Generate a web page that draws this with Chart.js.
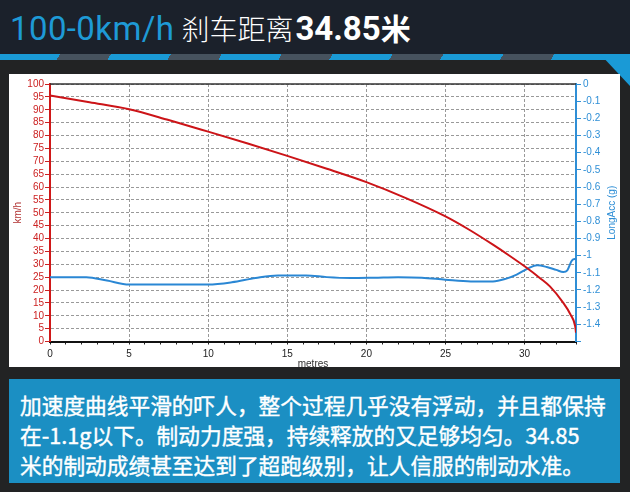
<!DOCTYPE html>
<html>
<head>
<meta charset="utf-8">
<script src="https://cdn.jsdelivr.net/npm/chart.js@4.4.0/dist/chart.umd.min.js"></script>
<style>
html, body { margin: 0; padding: 0; }
body { width: 630px; height: 492px; background: #222324; position: relative; overflow: hidden; font-family: "Noto Sans CJK SC", "Noto Sans", sans-serif; }
#head { position: absolute; left: 0; top: 0; width: 630px; height: 54px; background: #1b212b; }
#title { position: absolute; left: 10px; top: 7px; white-space: nowrap; line-height: 40px; color: #fff; }
#title .en { font-family: Roboto, sans-serif; font-size: 33px; color: #1e9ad6; letter-spacing: 0.4px; }
#title .cn { font-size: 28px; margin-left: 7px; font-weight: 300; }
#title .num { font-family: Roboto, sans-serif; font-weight: 700; font-size: 33px; margin-left: 2px; }
#title .unit { font-size: 30px; font-weight: 700; }
#stripe { position: absolute; left: 0; top: 54px; width: 630px; height: 6px;
  background: repeating-linear-gradient(120deg, #1a9ad6 0 52px, #46525e 52px 96px); }
#corner { position: absolute; left: 600px; top: 54px; width: 30px; height: 32px; background: #1a9ad6;
  clip-path: polygon(0 0, 100% 0, 100% 100%); }
#box { position: absolute; left: 9px; top: 74px; width: 611px; height: 293px; background: #fff; }
#note { position: absolute; left: 9px; top: 379px; width: 600px; height: 93px; background: #1b8fc3;
  padding: 11px 0 0 11px; color: #fff; font-size: 21.7px; line-height: 30px; white-space: nowrap;
  -webkit-text-stroke: 0.4px #fff; }
</style>
</head>
<body>
<div id="head"></div>
<div id="title"><span class="en">100-0km/h</span><span class="cn">刹车距离</span><span class="num">34.85</span><span class="unit">米</span></div>
<div id="stripe"></div>
<div id="corner"></div>
<div id="box"><canvas id="myChart" width="611" height="293"></canvas></div>
<div id="note">加速度曲线平滑的吓人，整个过程几乎没有浮动，并且都保持<br>在-1.1g以下。制动力度强，持续释放的又足够均匀。34.85<br>米的制动成绩甚至达到了超跑级别，让人信服的制动水准。</div>

<script>
// speed (km/h) against distance (m)
var speedDist = [0, 2.5, 5, 7.5, 10, 12.5, 15, 17.5, 20, 22.5, 25, 26.5, 28, 29, 30, 31, 31.6, 32.4, 32.9, 33.2, 33.25];
var speedKmh = [95.5, 92.9, 90.2, 86, 81.5, 76.9, 72.1, 67.1, 61.9, 55.7, 48.6, 43.4, 37.6, 33.5, 29.2, 24.5, 21.4, 15.4, 10.5, 5.9, 3.4];

// longitudinal acceleration (g) against distance (m)
var accDist = [0, 2.3, 3.6, 5, 7.5, 10, 11.5, 13, 14.4, 16.2, 17.5, 19, 20.5, 22, 23.5, 25, 26.6, 28, 28.8, 29.5, 30.2, 30.8, 31.4, 32, 32.45, 32.7, 33, 33.25];
var accG = [-1.125, -1.125, -1.145, -1.168, -1.168, -1.168, -1.155, -1.13, -1.115, -1.115, -1.125, -1.13, -1.128, -1.125, -1.128, -1.14, -1.15, -1.15, -1.135, -1.11, -1.075, -1.056, -1.066, -1.083, -1.095, -1.085, -1.027, -1.018];

var distTicks = [0, 5, 10, 15, 20, 25, 30];

function toPoints(xs, ys) {
    var pts = [];
    for (var i = 0; i < xs.length; i++) {
        pts.push({ x: xs[i], y: ys[i] });
    }
    return pts;
}

var tickFont = { size: 10, family: 'Liberation Sans' };

// top frame line and the right axis title (reads bottom to top)
var frame = {
    id: 'frame',
    afterDraw: function(chart) {
        var c = chart.ctx, a = chart.chartArea;
        c.save();
        c.strokeStyle = '#333';
        c.lineWidth = 1.5;
        c.beginPath();
        c.moveTo(a.left, a.top);
        c.lineTo(a.right, a.top);
        c.stroke();
        c.translate(chart.width - 8, (a.top + a.bottom) / 2);
        c.rotate(-Math.PI / 2);
        c.fillStyle = '#2f8fd6';
        c.font = '10px "Liberation Sans"';
        c.textAlign = 'center';
        c.textBaseline = 'middle';
        c.fillText('LongAcc (g)', 0, 0);
        c.restore();
    }
};

var ctx = document.getElementById('myChart').getContext('2d');
var chart = new Chart(ctx, {
    type: 'line',
    data: {
        datasets: [{
            label: 'km/h',
            data: toPoints(speedDist, speedKmh),
            yAxisID: 'ySpeed',
            borderColor: '#cc1418',
            borderWidth: 2,
            pointRadius: 0,
            cubicInterpolationMode: 'monotone'
        }, {
            label: 'LongAcc (g)',
            data: toPoints(accDist, accG),
            yAxisID: 'yAcc',
            borderColor: '#2a87d4',
            borderWidth: 2,
            pointRadius: 0,
            cubicInterpolationMode: 'monotone'
        }]
    },
    options: {
        responsive: false,
        animation: false,
        layout: { padding: { top: 10 } },
        plugins: { legend: { display: false }, tooltip: { enabled: false } },
        scales: {
            x: {
                type: 'linear',
                min: 0,
                max: 33.25,
                ticks: {
                    stepSize: 1, autoSkip: false, maxRotation: 0, color: '#222', font: tickFont, padding: 4,
                    callback: function(v) { return distTicks.indexOf(v) >= 0 ? String(v) : ''; }
                },
                grid: {
                    color: function(c) { return c.tick && distTicks.indexOf(c.tick.value) >= 0 ? '#999' : 'rgba(0,0,0,0)'; },
                    tickColor: '#222', tickLength: 3
                },
                border: { color: '#111', width: 2, dash: [3, 2] },
                title: { display: true, text: 'metres', color: '#333', font: { size: 10, family: 'Liberation Sans', lineHeight: 0.6 }, padding: 0 },
                afterFit: function(s) { s.height = 25.5; }
            },
            ySpeed: {
                position: 'left',
                min: 0,
                max: 100,
                ticks: { stepSize: 5, autoSkip: false, color: '#cc2222', font: tickFont, padding: 1 },
                grid: { color: '#999', tickColor: '#cc2222', tickLength: 5 },
                border: { color: '#d01818', width: 2, dash: [3, 2] },
                title: { display: true, text: 'km/h', color: '#b03030', font: tickFont, padding: { top: 3 } },
                afterFit: function(s) { s.width = 41; }
            },
            yAcc: {
                position: 'right',
                min: -1.5,
                max: 0,
                ticks: {
                    stepSize: 0.1, autoSkip: false, color: '#2f8fd6', font: tickFont, padding: 2,
                    callback: function(v) { return v < -1.45 ? '' : String(Math.round(v * 10) / 10); }
                },
                grid: { drawOnChartArea: false, tickColor: '#2f8fd6', tickLength: 5 },
                border: { color: '#2f8fd6', width: 2 },
                afterFit: function(s) { s.width = 44; }
            }
        }
    },
    plugins: [frame]
});
</script>
</body>
</html>
